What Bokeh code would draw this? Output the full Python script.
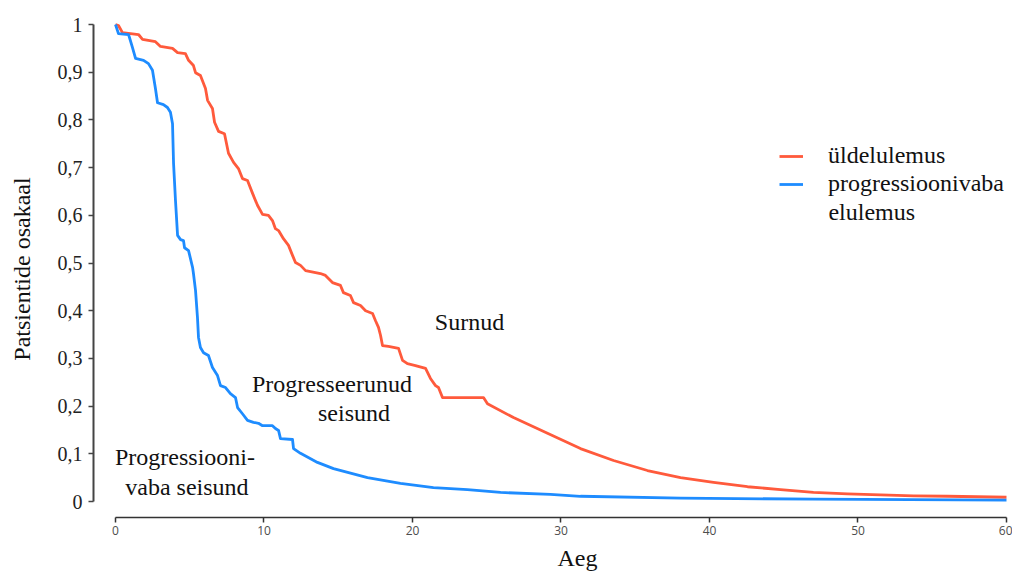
from bokeh.plotting import figure
from bokeh.models import Range1d, FixedTicker, Label, Legend, LegendItem, Title
from bokeh.embed import file_html
from bokeh.resources import INLINE

# ---------------- data ----------------
# Overall survival (üldelulemus)
os_t = [0, 0.2, 0.47, 1.55, 1.82, 2.69, 3.03, 3.84, 4.18, 4.71, 4.92, 5.25, 5.39, 5.72,
        6.06, 6.20, 6.53, 6.67, 6.94, 7.34, 7.61, 7.95, 8.28, 8.55, 8.89, 9.23, 9.56,
        9.90, 10.30, 10.57, 10.77, 10.98, 11.31, 11.65, 11.92, 12.12, 12.46, 12.80,
        13.47, 13.80, 14.14, 14.61, 15.15, 15.35, 15.82, 16.03, 16.50, 16.84, 17.31,
        17.51, 17.71, 17.85, 17.98, 18.38, 19.06, 19.33, 19.66, 20.20, 20.88, 21.21,
        21.55, 21.75, 22.02, 24.78, 25.05, 26.80, 29.09, 31.31, 33.54, 35.82, 38.05,
        40.27, 42.56, 44.78, 47.00, 49.29, 51.52, 53.74, 56.03, 60.0]
os_s = [1.0, 0.998, 0.983, 0.979, 0.969, 0.964, 0.954, 0.950, 0.941, 0.939, 0.925, 0.914,
        0.899, 0.893, 0.866, 0.841, 0.824, 0.795, 0.776, 0.771, 0.730, 0.711, 0.698,
        0.677, 0.673, 0.646, 0.621, 0.602, 0.600, 0.589, 0.572, 0.568, 0.551, 0.537,
        0.516, 0.501, 0.495, 0.484, 0.480, 0.478, 0.474, 0.459, 0.453, 0.438, 0.432,
        0.417, 0.411, 0.400, 0.394, 0.379, 0.365, 0.348, 0.327, 0.325, 0.321, 0.296,
        0.289, 0.285, 0.279, 0.258, 0.243, 0.239, 0.218, 0.218, 0.205, 0.176, 0.143,
        0.111, 0.086, 0.065, 0.050, 0.040, 0.031, 0.025, 0.019, 0.016, 0.014, 0.012,
        0.011, 0.009]

# Progression-free survival (progressioonivaba elulemus)
pfs_t = [0, 0.20, 0.88, 1.14, 1.35, 1.89, 2.22, 2.49, 2.69, 2.83, 3.23, 3.50, 3.70, 3.84,
         3.91, 4.04, 4.18, 4.38, 4.58, 4.65, 4.92, 5.19, 5.25, 5.39, 5.52, 5.59, 5.72,
         5.93, 6.26, 6.53, 6.87, 7.07, 7.41, 7.74, 8.08, 8.22, 8.55, 8.89, 9.29, 9.63,
         9.90, 10.57, 10.77, 10.98, 11.11, 11.92, 11.99, 12.46, 13.60, 14.68, 16.97,
         19.19, 21.41, 23.70, 25.93, 29.29, 31.31, 38.05, 47.00, 60.0]
pfs_s = [1.0, 0.981, 0.979, 0.952, 0.929, 0.925, 0.918, 0.904, 0.866, 0.836, 0.832, 0.826,
         0.816, 0.792, 0.709, 0.631, 0.558, 0.549, 0.547, 0.532, 0.526, 0.491, 0.478,
         0.442, 0.386, 0.344, 0.323, 0.312, 0.306, 0.281, 0.264, 0.243, 0.239, 0.226,
         0.218, 0.197, 0.184, 0.170, 0.166, 0.164, 0.159, 0.159, 0.153, 0.149, 0.132,
         0.130, 0.111, 0.101, 0.082, 0.069, 0.050, 0.038, 0.029, 0.025, 0.019, 0.015,
         0.011, 0.007, 0.005, 0.003]

x_ticks = [0, 10, 20, 30, 40, 50, 60]
y_ticks = [0, 0.1, 0.2, 0.3, 0.4, 0.5, 0.6, 0.7, 0.8, 0.9, 1]
y_tick_labels = ["0", "0,1", "0,2", "0,3", "0,4", "0,5", "0,6", "0,7", "0,8", "0,9", "1"]

series_labels = ["üldelulemus", "progressioonivaba"]
legend_extra = "elulemus"
x_title = "Aeg"
y_title = "Patsientide osakaal"
region_labels = [
    ("Surnud", 23.84, 0.377),
    ("Progresseerunud", 14.58, 0.247),
    ("seisund", 16.06, 0.186),
    ("Progressiooni-", 4.68, 0.094),
    ("vaba seisund", 4.81, 0.030),
]

RED = "#FF5A3C"
BLUE = "#1E8CFF"
SERIF = "Liberation Serif"

# ---------------- figure ----------------
p = figure(frame_width=915, frame_height=497,
           x_range=Range1d(-1.481, 60.135), y_range=Range1d(-0.0335, 1.0084),
           output_backend="svg", toolbar_location=None,
           min_border_left=93, min_border_top=20, min_border_right=4, min_border_bottom=58)
p.grid.visible = False
p.outline_line_color = None
p.background_fill_color = "white"
p.border_fill_color = "white"

r_os = p.line(os_t, os_s, line_color=RED, line_width=2.8, line_join="round")
r_pfs = p.line(pfs_t, pfs_s, line_color=BLUE, line_width=2.8, line_join="round")

# y axis
ya = p.yaxis[0]
ya.ticker = FixedTicker(ticks=y_ticks)
ya.major_label_overrides = {t: l for t, l in zip(y_ticks, y_tick_labels)}
ya.bounds = (0, 1)
ya.axis_line_color = "#444444"
ya.axis_line_width = 2
ya.major_tick_line_color = "#444444"
ya.major_tick_line_width = 1.5
ya.major_tick_out = 5
ya.major_tick_in = 0
ya.minor_tick_line_color = None
ya.major_label_standoff = 6
ya.major_label_text_font = SERIF
ya.major_label_text_font_size = "20px"
ya.major_label_text_color = "#222222"
ya.axis_label = y_title
ya.axis_label_text_font = SERIF
ya.axis_label_text_font_size = "24px"
ya.axis_label_text_font_style = "normal"
ya.axis_label_text_color = "#111111"
ya.axis_label_standoff = 20

# x axis
xa = p.xaxis[0]
xa.ticker = FixedTicker(ticks=x_ticks)
xa.bounds = (0, 60)
xa.axis_line_color = "#333333"
xa.axis_line_width = 1.5
xa.major_tick_line_color = "#333333"
xa.major_tick_line_width = 1.5
xa.major_tick_out = 5
xa.major_tick_in = 0
xa.minor_tick_line_color = None
xa.major_label_standoff = 3
xa.major_label_text_font = "Open Sans"
xa.major_label_text_font_size = "12px"
xa.major_label_text_color = "#4d4d4d"

# x axis title (placed right of centre like the reference)
p.add_layout(Title(text=x_title, align="left", offset=464, text_font=SERIF,
                   text_font_size="24px", text_font_style="normal",
                   text_color="#111111"), "below")

# region labels
for txt, lx, ly in region_labels:
    p.add_layout(Label(x=lx, y=ly, text=txt, text_font=SERIF, text_font_size="24px",
                       text_align="center", text_baseline="middle", text_color="#111111"))

# legend
legend = Legend(items=[LegendItem(label=series_labels[0], renderers=[r_os]),
                       LegendItem(label=series_labels[1], renderers=[r_pfs])],
                location=(686, 320), orientation="vertical",
                padding=0, margin=0, spacing=1,
                glyph_width=24, glyph_height=20, label_height=20, label_standoff=25,
                label_text_font=SERIF, label_text_font_size="24px",
                label_text_color="#111111",
                border_line_color=None, background_fill_alpha=0)
p.add_layout(legend)
p.add_layout(Label(x=48.01, y=0.606, text=legend_extra, text_font=SERIF,
                   text_font_size="24px", text_align="left", text_baseline="middle",
                   text_color="#111111"))

open("out.html", "w").write(file_html(p, INLINE))
